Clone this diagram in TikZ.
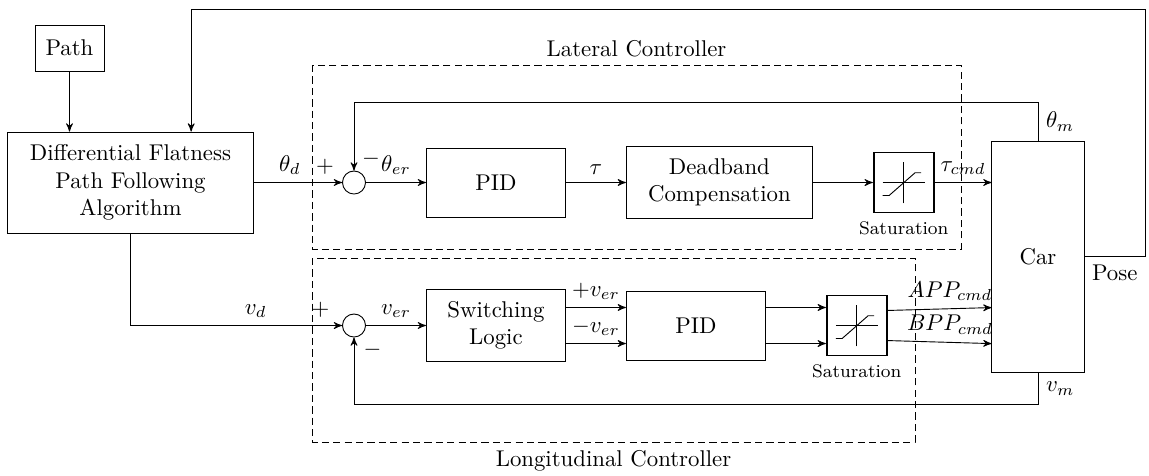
\documentclass[tikz,border=0pt]{standalone}
\usepackage{tikz}
\usepackage{amssymb}
\usetikzlibrary{positioning, arrows}
\tikzset{
>=stealth', % small filled arrow heads
node distance=26.3pt, % gap between two blocks of one row
block/.style={draw, rectangle, align=center, minimum width=61pt, minimum height=30.3pt}, % plain system block
sum/.style={draw, circle, inner sep=0pt, minimum size=10.1pt}, % summing junction
satbox/.style={draw, thick, rectangle, minimum size=26.3pt, label={[font=\footnotesize]below:Saturation}}, % saturation block
group/.style={draw, dash pattern=on 3.2pt off 1.8pt}, % frame round a controller
}

\begin{document}
\begin{tikzpicture}[x=0.4386pt, y=-0.4386pt]
    \useasboundingbox (0,0) rectangle (1149,475);
    % blocks
    \node[block, minimum width=107.5pt, minimum height=44.3pt] (dfpf) at (130.5,182.5) {Differential Flatness\\Path Following\\Algorithm};
    \node[block, minimum width=30.3pt, minimum height=20.2pt] (path) at (69.5,48) {Path};
    \node[sum] (sum1) at (354,182.5) {};
    \node[block, right=of sum1] (pid1) {PID};
    \node[block, right=of pid1, minimum width=81.6pt, minimum height=31.6pt] (deadband) {Deadband\\Compensation};
    \node[satbox, right=of deadband] (sat1) {};
    \node[sum] (sum2) at (354,325.5) {};
    \node[block, right=of sum2, minimum height=31.6pt] (switch) {Switching\\Logic};
    \node[block, right=of switch] (pid2) {PID};
    \node[satbox, right=of pid2] (sat2) {};
    \node[block, minimum width=40.4pt, minimum height=101.3pt] (car) at (1038,256.5) {Car};
    % signs at the junctions
    \node[above left=0pt of sum1.west] (plus1) {$+$};
    \node[above right=-1.5pt and 0pt of sum1.north] (minus1) {$-$};
    \node[above left=0pt and 2pt of sum2.west] (plus2) {$+$};
    \node[below right=0pt and -3pt of sum2.south east] (minus2) {$-$};
    % saturation curves
    \foreach \s in {sat1, sat2}{
      \draw ([xshift=-9.2pt]\s.center) -- ([xshift=9.2pt]\s.center);
      \draw ([yshift=-9.2pt]\s.center) -- ([yshift=9.2pt]\s.center);
      \draw ([shift={(-9.2pt,-5.7pt)}]\s.center) -- ([shift={(-6.4pt,-5.7pt)}]\s.center)
        -- ([shift={(5pt,4.3pt)}]\s.center) -- ([shift={(7.6pt,4.3pt)}]\s.center);
    }
    % controller frames
    \coordinate (latNW) at (312,65);
    \coordinate (latSE) at (961,249);
    \coordinate (lonNW) at (312,258);
    \coordinate (lonSE) at (915,442);
    \draw[group] (latNW) rectangle (latSE);
    \draw[group] (lonNW) rectangle (lonSE);
    \node[above] (latlabel) at (636.5,65) {Lateral Controller};
    \node[below] (lonlabel) at (613.5,442) {Longitudinal Controller};
    % signals
    \draw[->] (path) -- (path |- dfpf.north);
    \draw[->] (dfpf.east) -- node[pos=0.41, above]{$\theta_d$} (sum1.west);
    \draw[->] (sum1) -- node[above]{$\theta_{er}$} (pid1);
    \draw[->] (pid1) -- node[above]{$\tau$} (deadband);
    \draw[->] (deadband) -- (sat1);
    \draw[->] (sat1) -- node[above]{$\tau_{cmd}$} (sat1 -| car.west);
    \draw[->] (dfpf.south) |- node[pos=0.796, above]{$v_d$} (sum2.west);
    \draw[->] (sum2) -- node[above]{$v_{er}$} (switch);
    \draw[->] ([yshift=7.9pt]switch.east) -- node[above]{$+v_{er}$} ([yshift=7.9pt]pid2.west);
    \draw[->] ([yshift=-7.9pt]switch.east) -- node[above]{$-v_{er}$} ([yshift=-7.9pt]pid2.west);
    \draw[->] ([yshift=7.9pt]pid2.east) -- ([yshift=7.9pt]sat2.west);
    \draw[->] ([yshift=-7.9pt]pid2.east) -- ([yshift=-7.9pt]sat2.west);
    \draw[->] ([yshift=6.6pt]sat2.east) -- node[pos=0.6, above]{$APP_{cmd}$} ([yshift=-22.4pt]car.west);
    \draw[->] ([yshift=-6.6pt]sat2.east) -- node[pos=0.6, above]{$BPP_{cmd}$} ([yshift=-38.2pt]car.west);
    % feedback
    \coordinate (poseturn) at (1145,9);
    \draw[->] (car.north) -- ++(0,-38) node[midway, right]{$\theta_m$} -| (sum1.north);
    \draw[->] (car.south) -- ++(0,32) node[midway, right]{$v_m$} -| (sum2.south);
    \draw[->] (car.east) -| node[pos=0.25, below]{Pose} (poseturn) -| ([xshift=26.6pt]dfpf.north);
\end{tikzpicture}
\end{document}
